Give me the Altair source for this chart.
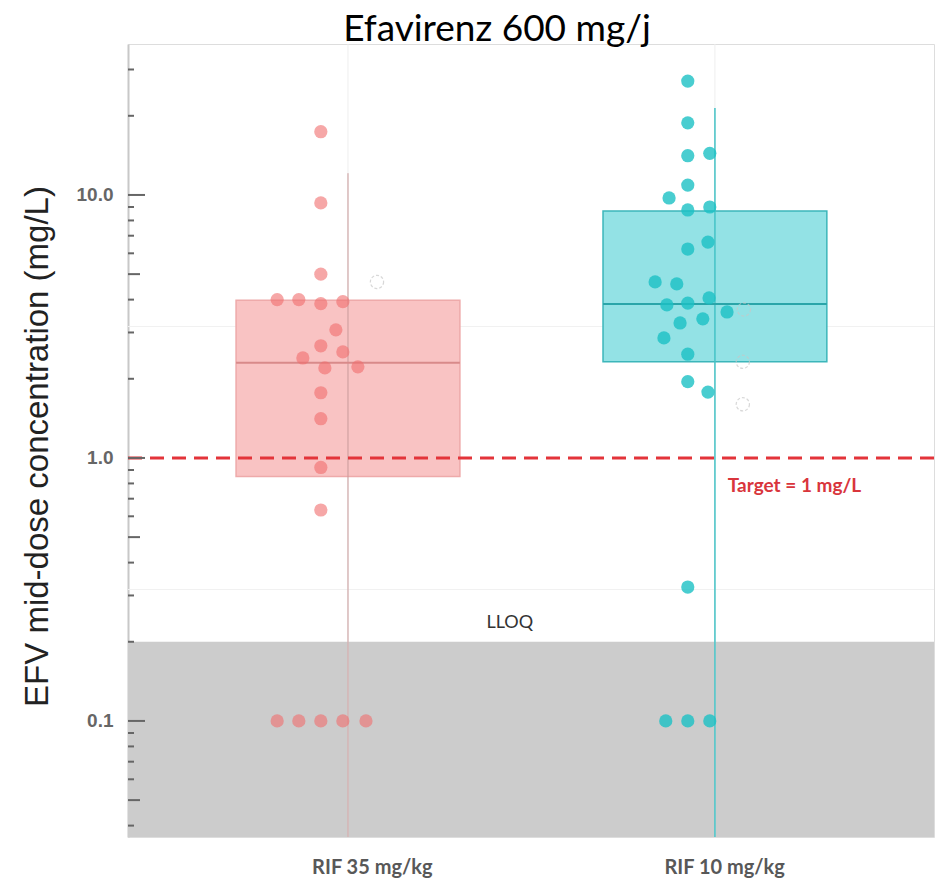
import altair as alt
import pandas as pd

# ---------------- data ----------------
title_text = "Efavirenz 600 mg/j"
y_title = "EFV mid-dose concentration (mg/L)"
groups = ["RIF 35 mg/kg", "RIF 10 mg/kg"]
group_pos = [1, 2]

# box summaries
box_q1 = [0.85, 2.32]
box_median = [2.30, 3.85]
box_q3 = [3.98, 8.69]
whisker_high = [12.1, 21.4]
whisker_low = [0.0362, 0.0362]

# individual observations (value, horizontal jitter in group units)
rif35_values = [17.4, 9.33, 5.0, 4.0, 4.0, 3.86, 3.93, 3.07, 2.67, 2.53, 2.40,
                2.20, 2.22, 1.77, 1.41, 0.92, 0.634, 0.1, 0.1, 0.1, 0.1, 0.1]
rif35_jitter = [-0.074, -0.074, -0.074, -0.193, -0.134, -0.074, -0.014, -0.033,
                -0.074, -0.014, -0.123, -0.063, 0.027, -0.074, -0.074, -0.074,
                -0.074, -0.193, -0.134, -0.074, -0.014, 0.049]
rif10_values = [27.1, 18.8, 14.1, 14.4, 10.9, 9.74, 8.77, 9.0, 6.62, 6.23, 4.67,
                4.59, 3.82, 3.88, 4.06, 3.59, 3.38, 3.26, 2.86, 2.48, 1.95, 1.78,
                0.323, 0.1, 0.1, 0.1]
rif10_jitter = [-0.074, -0.074, -0.074, -0.014, -0.074, -0.125, -0.074, -0.014,
                -0.019, -0.074, -0.163, -0.104, -0.131, -0.074, -0.016, 0.033,
                -0.033, -0.095, -0.139, -0.074, -0.074, -0.019, -0.074, -0.134,
                -0.074, -0.014]

# faint open (dashed) circles
open_group = [1, 2, 2, 2]
open_jitter = [0.079, 0.079, 0.076, 0.076]
open_values = [4.67, 3.67, 2.32, 1.60]

lloq_value = 0.2
target_value = 1.0
y_label_values = [0.1, 1, 10]
minor_ticks = [0.04, 0.06, 0.07, 0.08, 0.09, 0.2, 0.3, 0.4, 0.6, 0.7, 0.8, 0.9,
               2, 3, 4, 6, 7, 8, 9, 20, 30]
mid_ticks = [0.05, 0.5, 5]
major_ticks = [0.1, 1, 10]
half_decade_grid = [0.316, 3.16]

# annotations
annot_text = ["LLOQ", "Target = 1 mg/L"]
annot_x = [1.441, 2.035]
annot_y = [0.226, 0.742]

# per-group styling
box_fill = ["#f9c3c3", "#93e2e5"]
box_stroke = ["#eeaaaa", "#3cb6ba"]
whisker_color = ["#c99a9a", "#45c3c6"]
whisker_width = [1, 1.5]
median_color = ["#d88a8a", "#2aa5a9"]
point_color = ["#f06c6c", "#1cc0c4"]
point_opacity = [0.6, 0.8]

# ---------------- tables ----------------
box_df = pd.DataFrame({
    "group": groups, "pos": group_pos,
    "q1": box_q1, "median": box_median, "q3": box_q3,
    "lo": whisker_low, "hi": whisker_high,
})
box_df["left"] = box_df["pos"] - 0.305
box_df["right"] = box_df["pos"] + 0.305

pts = pd.DataFrame({
    "group": [groups[0]] * len(rif35_values) + [groups[1]] * len(rif10_values),
    "value": rif35_values + rif10_values,
    "xpos": [1 + j for j in rif35_jitter] + [2 + j for j in rif10_jitter],
})
open_df = pd.DataFrame({"xpos": [g + j for g, j in zip(open_group, open_jitter)],
                        "value": open_values})

W, H = 806, 793
xs = alt.Scale(domain=[0.4005, 2.597], nice=False, zero=False)
ys = alt.Scale(type="log", domain=[0.0362, 37.5], nice=False)

x_axis = alt.Axis(values=[1.065, 2.025],
                  labelExpr="datum.value < 1.5 ? 'RIF 35 mg/kg' : 'RIF 10 mg/kg'",
                  title=None, domain=False, ticks=False, tickSize=0, grid=False,
                  labelFont="Lato", labelFontSize=20, labelFontWeight="bold",
                  labelColor="#585858", labelPadding=20, labelFlush=False)
y_axis = alt.Axis(values=y_label_values, format=".1f", title=y_title,
                  ticks=False, tickSize=0, grid=False,
                  domainColor="#c8c8c8", domainWidth=2,
                  labelFont="Liberation Sans", labelFontWeight="bold",
                  labelFontSize=19, labelColor="#666666", labelPadding=15,
                  titleFont="Liberation Sans", titleFontSize=33,
                  titleFontWeight="normal", titleColor="#222222",
                  titleAngle=270, titleAlign="center", titleBaseline="middle",
                  titleX=-91, titleY=402)

def X(f):
    return alt.X(f"{f}:Q", scale=xs, axis=x_axis)

def Y(f):
    return alt.Y(f"{f}:Q", scale=ys, axis=y_axis)

band = alt.Chart(pd.DataFrame({"lo": [0.0362], "hi": [lloq_value]})).mark_rect(
    color="#cccccc").encode(y=Y("hi"), y2="lo")

vgrid = alt.Chart(pd.DataFrame({"pos": group_pos})).mark_rule(
    color="#eeeeee", strokeWidth=1).encode(x=X("pos"))
hgrid = alt.Chart(pd.DataFrame({"v": half_decade_grid})).mark_rule(
    color="#f1f1f1", strokeWidth=1).encode(y=Y("v"))

box_layers = []
for i, g in enumerate(groups):
    base = alt.Chart(box_df).transform_filter(alt.datum.group == g)
    box_layers.append(base.mark_rect(fill=box_fill[i], stroke=box_stroke[i], strokeWidth=1.5)
                      .encode(x=X("left"), x2="right", y=Y("q1"), y2="q3"))
for i, g in enumerate(groups):
    base = alt.Chart(box_df).transform_filter(alt.datum.group == g)
    box_layers.append(base.mark_rule(color=whisker_color[i], strokeWidth=whisker_width[i], clip=True)
                      .encode(x=X("pos"), y=Y("lo"), y2="hi"))
    box_layers.append(base.mark_rule(color=median_color[i], strokeWidth=2)
                      .encode(x=X("left"), x2="right", y=Y("median")))

points = alt.Chart(pts).mark_circle(size=175).encode(
    x=X("xpos"), y=Y("value"),
    color=alt.Color("group:N", scale=alt.Scale(domain=groups, range=point_color), legend=None),
    opacity=alt.Opacity("group:N", scale=alt.Scale(domain=groups, range=point_opacity), legend=None),
)
open_pts = alt.Chart(open_df).mark_point(
    size=175, filled=False, color="#c8c8c8", strokeWidth=1.2, strokeDash=[3, 2]
).encode(x=X("xpos"), y=Y("value"))

target = alt.Chart(pd.DataFrame({"v": [target_value]})).mark_rule(
    color="#e3343a", strokeWidth=3, strokeDash=[14, 8]).encode(y=Y("v"))

tick_minor = alt.Chart(pd.DataFrame({"v": minor_ticks})).mark_rule(
    color="#666666", strokeWidth=2).encode(y=Y("v"), x=alt.value(0), x2=alt.value(6))
tick_mid = alt.Chart(pd.DataFrame({"v": mid_ticks})).mark_rule(
    color="#666666", strokeWidth=2).encode(y=Y("v"), x=alt.value(0), x2=alt.value(12))
tick_major = alt.Chart(pd.DataFrame({"v": major_ticks})).mark_rule(
    color="#666666", strokeWidth=2).encode(y=Y("v"), x=alt.value(0), x2=alt.value(17))

annot_df = pd.DataFrame({"text": annot_text, "x": annot_x, "y": annot_y})
lloq_txt = alt.Chart(annot_df.iloc[[0]]).mark_text(
    font="Lato", fontSize=18, color="#333333", align="center", baseline="alphabetic"
).encode(x=X("x"), y=Y("y"), text="text:N")
target_txt = alt.Chart(annot_df.iloc[[1]]).mark_text(
    font="Lato", fontSize=19, fontWeight="bold", color="#d9353c", align="left",
    baseline="alphabetic"
).encode(x=X("x"), y=Y("y"), text="text:N")

chart = alt.layer(
    band, vgrid, hgrid, *box_layers, points, open_pts, target,
    tick_minor, tick_mid, tick_major, lloq_txt, target_txt
).properties(
    width=W, height=H,
    title=alt.TitleParams(title_text, font="Lato", fontSize=37, fontWeight="normal",
                          color="#000000", anchor="middle", dx=-34, dy=40, offset=6,
                          baseline="alphabetic", frame="group"),
    autosize=alt.AutoSizeParams(type="none"),
    padding={"left": 128, "top": 44, "right": 1, "bottom": 48},
).configure_view(stroke="#ededed").configure(background="white")

chart.save("out.html", embed_options={"renderer": "svg", "actions": False})
